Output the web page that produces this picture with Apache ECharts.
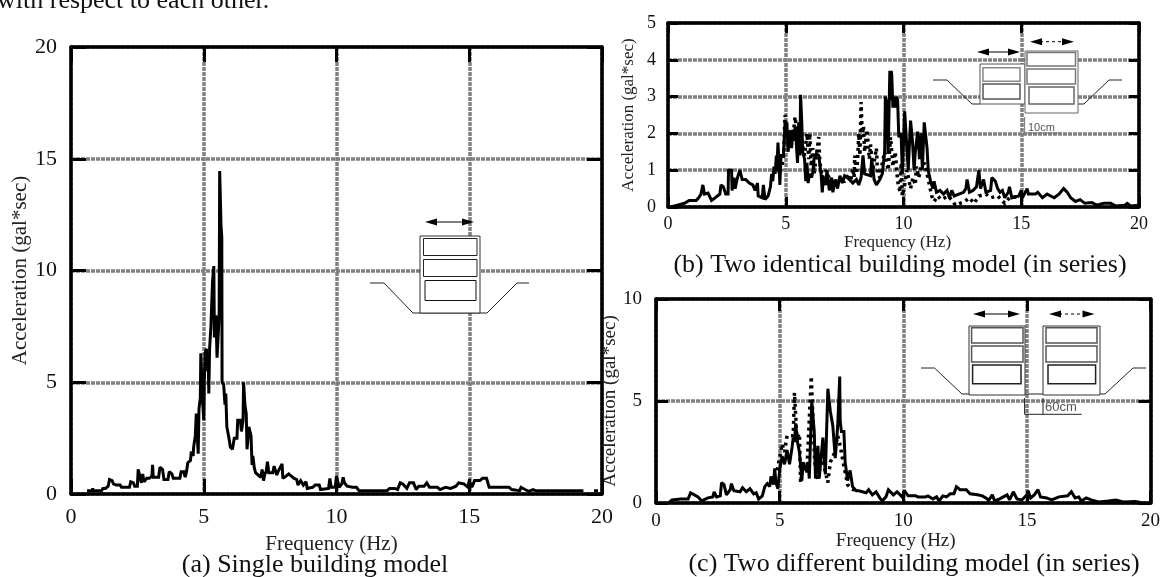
<!DOCTYPE html>
<html><head><meta charset="utf-8">
<style>html,body{margin:0;padding:0;background:#fff}#c{width:1163px;height:577px}</style>
<script src="https://cdn.jsdelivr.net/npm/echarts@6/dist/echarts.min.js"></script></head>
<body><div id="c"></div>
<script>
const singleBuilding = [[0.6,.15],[0.8,.15],[.82,.25],[.85,.15],[1.15,.15],[1.2,.25],[1.3,.25],[1.4,.35],[1.45,.65],[1.55,.6],[1.6,.45],[1.7,.4],[1.85,.4],[1.9,.3],[2.2,.3],[2.25,.55],[2.35,.5],[2.4,.35],[2.5,.35],[2.53,1.1],[2.6,1.05],[2.65,.5],[2.7,.9],[2.75,.55],[2.85,.7],[2.95,.7],[3.05,.8],[3.07,1.3],[3.1,.75],[3.3,.75],[3.35,1.2],[3.45,1.1],[3.5,.65],[3.65,.65],[3.7,1.0],[3.8,.9],[3.85,.7],[4.1,.7],[4.15,1],[4.25,1],[4.3,.75],[4.35,1],[4.4,1.4],[4.5,1.5],[4.53,1.9],[4.6,1.7],[4.62,2.1],[4.68,2.6],[4.72,3.6],[4.76,3.6],[4.79,1.8],[4.82,3.8],[4.87,4.3],[4.89,6.3],[4.93,6.3],[4.95,4.3],[5.0,3.3],[5.02,5],[5.05,6.3],[5.1,6.5],[5.13,5.5],[5.17,6],[5.19,4.5],[5.22,6.5],[5.27,7.5],[5.3,8.5],[5.33,9.5],[5.38,10.2],[5.4,7],[5.43,7.8],[5.46,8],[5.5,6.1],[5.54,7],[5.58,8],[5.6,14.45],[5.63,14.4],[5.65,12],[5.68,11.5],[5.69,5],[5.75,4.9],[5.8,4],[5.83,4.5],[5.87,3],[5.95,2.5],[6.0,2.1],[6.08,2.0],[6.15,2.5],[6.25,2.5],[6.28,3.3],[6.38,3.3],[6.42,2.8],[6.48,3.3],[6.5,5],[6.55,4],[6.6,3.6],[6.63,2],[6.7,3],[6.78,2.6],[6.82,1.3],[6.85,1.7],[6.9,1.2],[6.95,.95],[7.05,.85],[7.15,.75],[7.2,1.1],[7.25,.6],[7.3,.9],[7.35,1.0],[7.4,1.45],[7.45,.95],[7.6,.95],[7.65,1.25],[7.75,.85],[7.8,1.0],[7.95,1.35],[7.98,.7],[8.1,.8],[8.2,.9],[8.3,.8],[8.4,.7],[8.5,.65],[8.55,.4],[8.65,.6],[8.75,.4],[8.85,.55],[8.9,.25],[9.1,.3],[9.2,.4],[9.35,.4],[9.4,.2],[9.7,.25],[9.75,.7],[9.8,.3],[9.95,.3],[10.0,.8],[10.1,.3],[10.2,.45],[10.25,.75],[10.3,.5],[10.4,.35],[10.6,.3],[10.75,.3],[10.85,.15],[11.5,.15],[11.55,.2],[11.9,.15],[12,.25],[12.2,.25],[12.3,.2],[12.4,.5],[12.5,.45],[12.65,.25],[12.75,.5],[12.9,.5],[13,.2],[13.1,.35],[13.3,.35],[13.4,.5],[13.5,.3],[13.8,.3],[13.9,.2],[14.1,.3],[14.3,.25],[14.5,.35],[14.6,.5],[14.8,.45],[14.95,.3],[15,.6],[15.1,.3],[15.2,.6],[15.4,.6],[15.5,.7],[15.65,.7],[15.75,.3],[16.1,.3],[16.15,.35],[16.3,.3],[16.5,.3],[16.6,.2],[16.9,.15],[16.95,.3],[17.1,.2],[17.25,.12],[17.4,.2],[17.5,.15],[19.3,.15],[19.5,null],[19.7,.15],[19.85,.15]];
const identicalSolid = [[.1,0],[.4,.05],[.7,.1],[.9,.18],[1.2,.18],[1.3,.25],[1.4,.35],[1.48,.6],[1.55,.35],[1.7,.38],[1.85,.18],[2,.25],[2.2,.35],[2.25,.6],[2.35,.55],[2.45,.35],[2.55,.35],[2.57,1],[2.7,1],[2.72,.45],[2.8,.8],[2.85,.5],[2.95,.8],[3.05,1],[3.15,.75],[3.3,.75],[3.45,.65],[3.6,.6],[3.7,.45],[3.8,.65],[3.83,.3],[4,.25],[4.05,.6],[4.12,.2],[4.25,.3],[4.35,.55],[4.4,.9],[4.45,.7],[4.5,1.1],[4.55,.9],[4.6,1.4],[4.62,1],[4.67,1.75],[4.72,1.1],[4.75,.6],[4.8,1.4],[4.9,1.4],[4.97,2.3],[5.02,1.9],[5.05,2.3],[5.1,1.5],[5.18,2],[5.25,1.6],[5.3,2.1],[5.35,1.8],[5.4,2.2],[5.5,1.2],[5.55,2.3],[5.6,1.4],[5.63,3.05],[5.68,2.3],[5.72,1.5],[5.8,1.3],[5.85,.7],[5.9,1.2],[5.95,.65],[6,.9],[6.1,.8],[6.15,.95],[6.2,1.3],[6.3,1.45],[6.4,1.4],[6.5,.9],[6.55,.4],[6.6,.8],[6.7,.6],[6.75,1],[6.85,.45],[6.95,.8],[7.0,.4],[7.1,.75],[7.2,.5],[7.3,.85],[7.4,.65],[7.5,.85],[7.7,.75],[7.85,.65],[8,.75],[8.1,.6],[8.2,.8],[8.28,1.4],[8.35,.9],[8.6,.85],[8.65,1.3],[8.75,.75],[8.85,.6],[9,.75],[9.1,.9],[9.2,1.5],[9.23,3],[9.3,2.8],[9.35,1.45],[9.42,3.7],[9.45,2.9],[9.48,3.7],[9.5,3.6],[9.55,2.7],[9.6,3],[9.65,2.7],[9.7,3],[9.75,2.9],[9.8,1.9],[9.9,2],[9.95,.9],[10.05,2.6],[10.12,2.6],[10.2,1],[10.3,2.35],[10.38,1.8],[10.45,1],[10.5,1.5],[10.6,2.05],[10.68,1.3],[10.75,2],[10.8,1],[10.88,2.3],[10.95,2.25],[11,1.6],[11.05,1],[11.15,.7],[11.25,.5],[11.3,.7],[11.4,.4],[11.55,.45],[11.7,.35],[11.85,.45],[11.95,.25],[12.05,.45],[12.15,.3],[12.35,.35],[12.55,.4],[12.65,.5],[12.7,.75],[12.8,.4],[12.95,.45],[13.1,.55],[13.2,1],[13.27,.5],[13.4,.75],[13.5,.4],[13.7,.45],[13.75,.8],[13.9,.7],[14,.5],[14.1,.4],[14.2,.45],[14.3,.25],[14.45,.4],[14.5,.55],[14.6,.25],[14.9,.3],[15,.45],[15.05,.25],[15.25,.5],[15.3,.35],[15.6,.35],[15.7,.4],[15.9,.25],[16.1,.35],[16.25,.3],[16.4,.25],[16.6,.35],[16.8,.5],[16.95,.4],[17.1,.25],[17.3,.15],[17.5,.2],[17.7,.1],[18,.12],[18.2,.05],[18.5,.1],[18.8,.1],[19,.03],[19.4,.05],[19.5,.1],[19.65,.03],[20,.05]];
const identicalDashed = [[4.6,1.2],[4.75,.9],[4.9,1.3],[4.97,2.5],[5.02,2.1],[5.1,1.7],[5.2,2.1],[5.28,1.8],[5.4,2.45],[5.48,1.9],[5.6,2.2],[5.7,1.7],[5.8,1.4],[5.9,2],[5.98,1.3],[6.02,2],[6.08,1.1],[6.15,1.6],[6.2,.9],[6.3,1.4],[6.4,1.9],[6.45,1.2],[6.55,.8],[6.7,1.0],[6.9,.7],[7,.6],[7.2,.7],[7.5,.7],[7.7,.9],[7.75,.7],[7.85,1.05],[7.9,.8],[7.93,1.4],[8,.9],[8.05,1.25],[8.1,2],[8.15,1.4],[8.2,2.85],[8.25,1.9],[8.3,2.2],[8.35,1.5],[8.45,2.1],[8.55,1.3],[8.6,1.7],[8.7,1],[8.85,1.6],[8.9,.9],[9,.8],[9.1,1.2],[9.2,1.5],[9.35,1],[9.45,1.9],[9.55,1.1],[9.65,1.5],[9.75,.7],[9.85,.4],[9.9,1.2],[9.95,.3],[10.05,.6],[10.15,1],[10.3,.5],[10.4,.8],[10.5,.6],[10.55,1.1],[10.65,.8],[10.75,1.1],[10.9,1.2],[11,.9],[11.1,.6],[11.2,.3],[11.3,.15],[11.45,.3],[11.6,.2],[11.9,.3],[12.1,.15],[12.2,.05],[12.4,.1],[12.6,.15],[12.8,.25],[13,.1],[13.2,.3],[13.5,.35],[13.7,.25],[14,.3],[14.3,.1],[14.5,.25],[15,.3]];
const differentSolid = [[.55,.05],[.65,.15],[1,.2],[1.3,.2],[1.4,.5],[1.55,.4],[1.7,.3],[1.85,.1],[2.1,.25],[2.3,.3],[2.35,.55],[2.45,.3],[2.6,.35],[2.65,1],[2.75,.9],[2.85,.4],[3,.65],[3.05,.95],[3.15,.6],[3.4,.55],[3.5,.75],[3.65,.55],[3.8,.7],[3.95,.45],[4.05,.5],[4.15,.2],[4.3,.35],[4.4,.8],[4.5,.95],[4.6,.8],[4.65,1.3],[4.75,.9],[4.8,1.7],[4.85,1],[4.93,.7],[5,1.6],[5.1,2.3],[5.2,1.9],[5.3,2.6],[5.4,1.9],[5.5,2.7],[5.55,3.2],[5.6,3.0],[5.65,3.9],[5.72,3],[5.8,2.5],[5.9,1.1],[5.95,2],[6.05,1.6],[6.15,2],[6.2,1.2],[6.3,5],[6.4,3.5],[6.45,1.2],[6.55,2.8],[6.6,1.2],[6.75,3.2],[6.85,1.4],[6.95,5.6],[7.05,4.5],[7.15,3.8],[7.25,2.2],[7.35,3.8],[7.43,6.2],[7.45,4],[7.5,3.5],[7.6,3.5],[7.65,2],[7.75,1.1],[7.85,1.6],[7.95,.8],[8.1,.6],[8.2,.6],[8.5,.5],[8.6,.65],[8.75,.4],[8.9,.55],[9.05,.25],[9.15,.1],[9.3,.3],[9.4,.65],[9.6,.4],[9.75,.55],[9.95,.3],[10.05,.6],[10.2,.35],[10.5,.35],[10.6,.3],[10.9,.3],[11,.35],[11.2,.2],[11.35,.3],[11.45,.1],[11.6,.35],[11.75,.3],[11.9,.45],[12.05,.45],[12.15,.8],[12.3,.65],[12.55,.65],[12.7,.45],[13,.4],[13.2,.35],[13.4,.2],[13.45,.1],[13.6,.4],[13.7,.1],[13.9,.2],[14.2,.4],[14.3,.15],[14.45,.55],[14.6,.2],[14.8,.15],[15,.4],[15.05,.6],[15.15,.25],[15.3,.4],[15.45,.65],[15.55,.3],[15.8,.25],[16,.15],[16.3,.3],[16.65,.35],[16.8,.55],[16.95,.25],[17.1,.3],[17.2,.1],[17.4,.25],[17.6,.15],[17.9,.05],[18.3,.1],[18.6,.15],[18.9,.05],[19.4,.07],[19.6,.02]];
const differentDashed = [[4.9,1.6],[5.0,2.2],[5.1,2.9],[5.2,2.5],[5.3,3.3],[5.55,3.3],[5.6,5.4],[5.7,3.2],[5.8,3.4],[5.85,1],[5.95,2],[6.1,1.5],[6.28,6.2],[6.35,4],[6.42,2],[6.55,1.1],[6.7,2.3],[6.95,1.0],[7.05,2],[7.2,2.4],[7.35,3.3],[7.45,2.8],[7.6,1.8],[7.75,.9],[7.9,.7],[8.1,.6]];

const FONT='"Liberation Serif","Times New Roman",serif';
const panels=[
 {l:71,r:602,t:47,b:494,yMax:20,yStep:5,lab:22,nameX:21,nameY:21,gapX:40,gapY:38,tick:15,marginX:12,marginY:14,padX:10},
 {l:668,r:1139,t:23,b:207,yMax:5,yStep:1,lab:18,nameX:17,nameY:17,gapX:24,gapY:31,tick:10,marginX:8,marginY:12,padX:12},
 {l:656,r:1155,t:299,b:503,yMax:10,yStep:5,lab:19,nameX:19,nameY:19,gapX:29,gapY:35,tick:12,marginX:9,marginY:14,padX:15}
];
const grid=[],xAxis=[],yAxis=[];
panels.forEach((p,i)=>{
 grid.push({left:p.l,top:p.t,width:p.r-p.l,height:p.b-p.t,containLabel:false});
 const line={show:true,onZero:false,lineStyle:{color:'#000',width:3.5}};
 const tick={show:true,inside:true,length:p.tick,lineStyle:{color:'#000',width:3}};
 const split={show:true,lineStyle:{color:'#808080',width:3.5,type:[4,1]}};
 xAxis.push({type:'value',gridIndex:i,min:0,max:20,interval:5,position:'bottom',axisLine:line,axisTick:tick,splitLine:split,
   axisLabel:{color:'#111',fontFamily:FONT,fontSize:p.lab,margin:p.marginX,showMinLabel:true,showMaxLabel:true},
   name:'Frequency (Hz)',nameLocation:'middle',nameGap:p.gapX,
   nameTextStyle:{color:'#222',fontFamily:FONT,fontSize:p.nameX,padding:[0,p.padX,0,0]}});
 xAxis.push({type:'value',gridIndex:i,min:0,max:20,interval:5,position:'top',axisLine:line,axisTick:tick,splitLine:{show:false},axisLabel:{show:false}});
 yAxis.push({type:'value',gridIndex:i,min:0,max:p.yMax,interval:p.yStep,position:'left',axisLine:line,axisTick:tick,splitLine:split,
   axisLabel:{color:'#111',fontFamily:FONT,fontSize:p.lab,margin:p.marginY,showMinLabel:true,showMaxLabel:true},
   name:'Acceleration (gal*sec)',nameLocation:'middle',nameGap:p.gapY,
   nameTextStyle:{color:'#222',fontFamily:FONT,fontSize:p.nameY}});
 yAxis.push({type:'value',gridIndex:i,min:0,max:p.yMax,interval:p.yStep,position:'right',axisLine:line,axisTick:tick,splitLine:{show:false},axisLabel:{show:false}});
});
function ser(i,name,data,dashed,lw){
 return {type:'line',name,xAxisIndex:i*2,yAxisIndex:i*2,data,symbol:'none',smooth:false,connectNulls:false,z:dashed?3:4,
   lineStyle:{color:'#000',width:lw,type:dashed?[3,4]:'solid',join:'miter',miterLimit:2},silent:true};
}
const series=[
 ser(0,'Single',singleBuilding,false,3),
 ser(1,'Dashed',identicalDashed,true,3.5),
 ser(1,'Solid',identicalSolid,false,3),
 ser(2,'Dashed',differentDashed,true,3.5),
 ser(2,'Solid',differentSolid,false,3)
];
const g=[];
const Z=50;
function rect(x,y,w,h,stroke,lw,fill){g.push({type:'rect',z:Z,shape:{x,y,width:w,height:h},style:{fill:fill||'#fff',stroke:stroke||'#111',lineWidth:lw||1}});}
function pl(pts,stroke,lw,dash){g.push({type:'polyline',z:Z,shape:{points:pts},style:{fill:null,stroke:stroke||'#222',lineWidth:lw||1,lineDash:dash||null}});}
function arrow(x1,x2,y,dashed){
 pl([[x1+10,y],[x2-10,y]],'#000',1,dashed?[3,3]:null);
 g.push({type:'polygon',z:Z,shape:{points:[[x1,y],[x1+12,y-3.5],[x1+12,y+3.5]]},style:{fill:'#000'}});
 g.push({type:'polygon',z:Z,shape:{points:[[x2,y],[x2-12,y-3.5],[x2-12,y+3.5]]},style:{fill:'#000'}});
}
function txt(x,y,text,size,align,family,color){g.push({type:'text',z:Z,x,y,style:{text,fontSize:size,fontFamily:family||FONT,fill:color||'#111',align:align||'center',verticalAlign:'middle'}});}
// a
pl([[370,283],[384,283],[413,313],[487,313],[517,283],[529,283]]);
rect(420,236,60,77,'#333',1);
rect(423.5,238.5,53.5,17,'#222',1);rect(423.5,259.5,53.5,17,'#222',1);rect(425,280.5,51,20,'#111',1);
arrow(425,474,222);
// b
pl([[933,80],[947,80],[972,104],[980,104]]);
pl([[1078,104],[1084,104],[1109,80],[1122,80]]);
rect(980,64,45,40,'#555',1);rect(983,67.7,37,13.5,'#888',1.5);rect(983,84,37,15,'#555',1.5);
rect(1025,51,53,62,'#666',1);rect(1027,52.5,48.5,13.5,'#777',1.5);rect(1027,69,48.5,15,'#777',1.5);rect(1029,87,45,17,'#666',1.5);
arrow(977,1020,52);arrow(1030,1074,41.7,true);
pl([[1024.6,117],[1024.6,133],[1061,133]],'#777',1);
txt(1028,127.5,'10cm',11,'left','"Liberation Sans",sans-serif','#555');
// c
pl([[921,368],[934.5,368],[962,394],[969,394]]);
pl([[1025,394],[1043,394]]);
pl([[1100,394],[1105,394],[1133,368],[1146,368]]);
rect(969,326,56,69,'#333',1);rect(971.6,327.7,51.4,15.3,'#555',1.5);rect(971.6,346,51.4,16,'#555',1.5);rect(972.6,365,48.4,18.7,'#222',1.5);
rect(1043,326,57,69,'#333',1);rect(1046,327.7,51,15.3,'#555',1.5);rect(1046,346,51,16,'#555',1.5);rect(1048,365,47.6,18.7,'#222',1.5);
arrow(973,1020,314);arrow(1049,1094.5,314,true);
pl([[1024.6,398],[1024.6,414.3],[1081.7,414.3]],'#222',1);pl([[1043,398],[1043,414.3]],'#222',1);
txt(1045,407,'60cm',13,'left','"Liberation Sans",sans-serif','#555');
// captions
txt(315,565,'(a) Single building model',26);
txt(900,265,'(b) Two identical building model (in series)',26);
txt(914,564,'(c) Two different building model (in series)',26);
txt(-3,1,'with respect to each other.',26,'left');
echarts.init(document.getElementById('c'),null,{renderer:'canvas'}).setOption({animation:false,backgroundColor:'#fff',grid,xAxis,yAxis,series,graphic:{elements:g}});
</script></body></html>
